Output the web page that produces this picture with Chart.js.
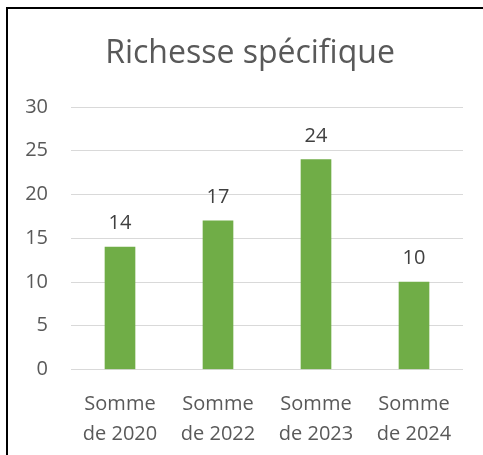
<!DOCTYPE html>
<html>
<head>
<meta charset="utf-8">
<script src="https://cdn.jsdelivr.net/npm/chart.js@4"></script>
<style>
  body { margin: 0; background: #fff; }
  #wrap { position: relative; width: 483px; height: 455px; }
  #frame {
    position: absolute; left: 6px; top: 7px; right: 0; bottom: 0;
    border-left: 2px solid #000; border-top: 2px solid #000;
    pointer-events: none;
  }
</style>
</head>
<body>
<div id="wrap">
  <canvas id="chart" width="483" height="455"></canvas>
  <div id="frame"></div>
</div>
<script>
// chart data
const chartTitle = 'Richesse spécifique';
const categories = [['Somme', 'de 2020'], ['Somme', 'de 2022'], ['Somme', 'de 2023'], ['Somme', 'de 2024']];
const richesse = [14, 17, 24, 10];
const yTicks = [0, 5, 10, 15, 20, 25, 30];

const FONT = '"Open Sans", sans-serif';

// title is centred on the whole frame, not the plot area, so draw it by hand
const frameTitle = {
    id: 'frameTitle',
    afterDraw(chart) {
        const ctx = chart.ctx;
        ctx.save();
        ctx.font = '32px ' + FONT;
        ctx.fillStyle = '#595959';
        ctx.textAlign = 'center';
        ctx.textBaseline = 'alphabetic';
        ctx.fillText(chartTitle, 250, 63);
        ctx.restore();
    }
};

// draws the value above each bar
const valueLabels = {
    id: 'valueLabels',
    afterDatasetsDraw(chart) {
        const ctx = chart.ctx;
        ctx.save();
        ctx.font = '20px ' + FONT;
        ctx.fillStyle = '#404040';
        ctx.textAlign = 'center';
        ctx.textBaseline = 'alphabetic';
        chart.getDatasetMeta(0).data.forEach((bar, i) => {
            ctx.fillText(richesse[i], bar.x, bar.y - 18);
        });
        ctx.restore();
    }
};

const ctx = document.getElementById('chart').getContext('2d');
new Chart(ctx, {
    type: 'bar',
    data: {
        labels: categories,
        datasets: [{
            label: chartTitle,
            data: richesse,
            backgroundColor: '#70AD47',
            borderWidth: 0,
            barThickness: 30
        }]
    },
    options: {
        responsive: false,
        animation: false,
        layout: { padding: { top: 107, right: 20, bottom: 0, left: 0 } },
        plugins: {
            legend: { display: false },
            tooltip: { enabled: false },
            title: { display: false }
        },
        scales: {
            x: {
                grid: { display: false },
                border: { display: false },
                ticks: {
                    color: '#595959',
                    font: { family: FONT, size: 20, lineHeight: 1.5 },
                    padding: 12,
                    maxRotation: 0
                },
                afterFit(scale) { scale.height = 85.5; }
            },
            y: {
                min: 0,
                max: 30,
                grid: { color: '#D9D9D9', lineWidth: 1, drawTicks: false },
                border: { display: false },
                afterBuildTicks(scale) { scale.ticks = yTicks.map(v => ({ value: v })); },
                ticks: {
                    color: '#595959',
                    font: { family: FONT, size: 20 },
                    padding: 23
                },
                afterFit(scale) { scale.width = 71; }
            }
        }
    },
    plugins: [valueLabels, frameTitle]
});
</script>
</body>
</html>
